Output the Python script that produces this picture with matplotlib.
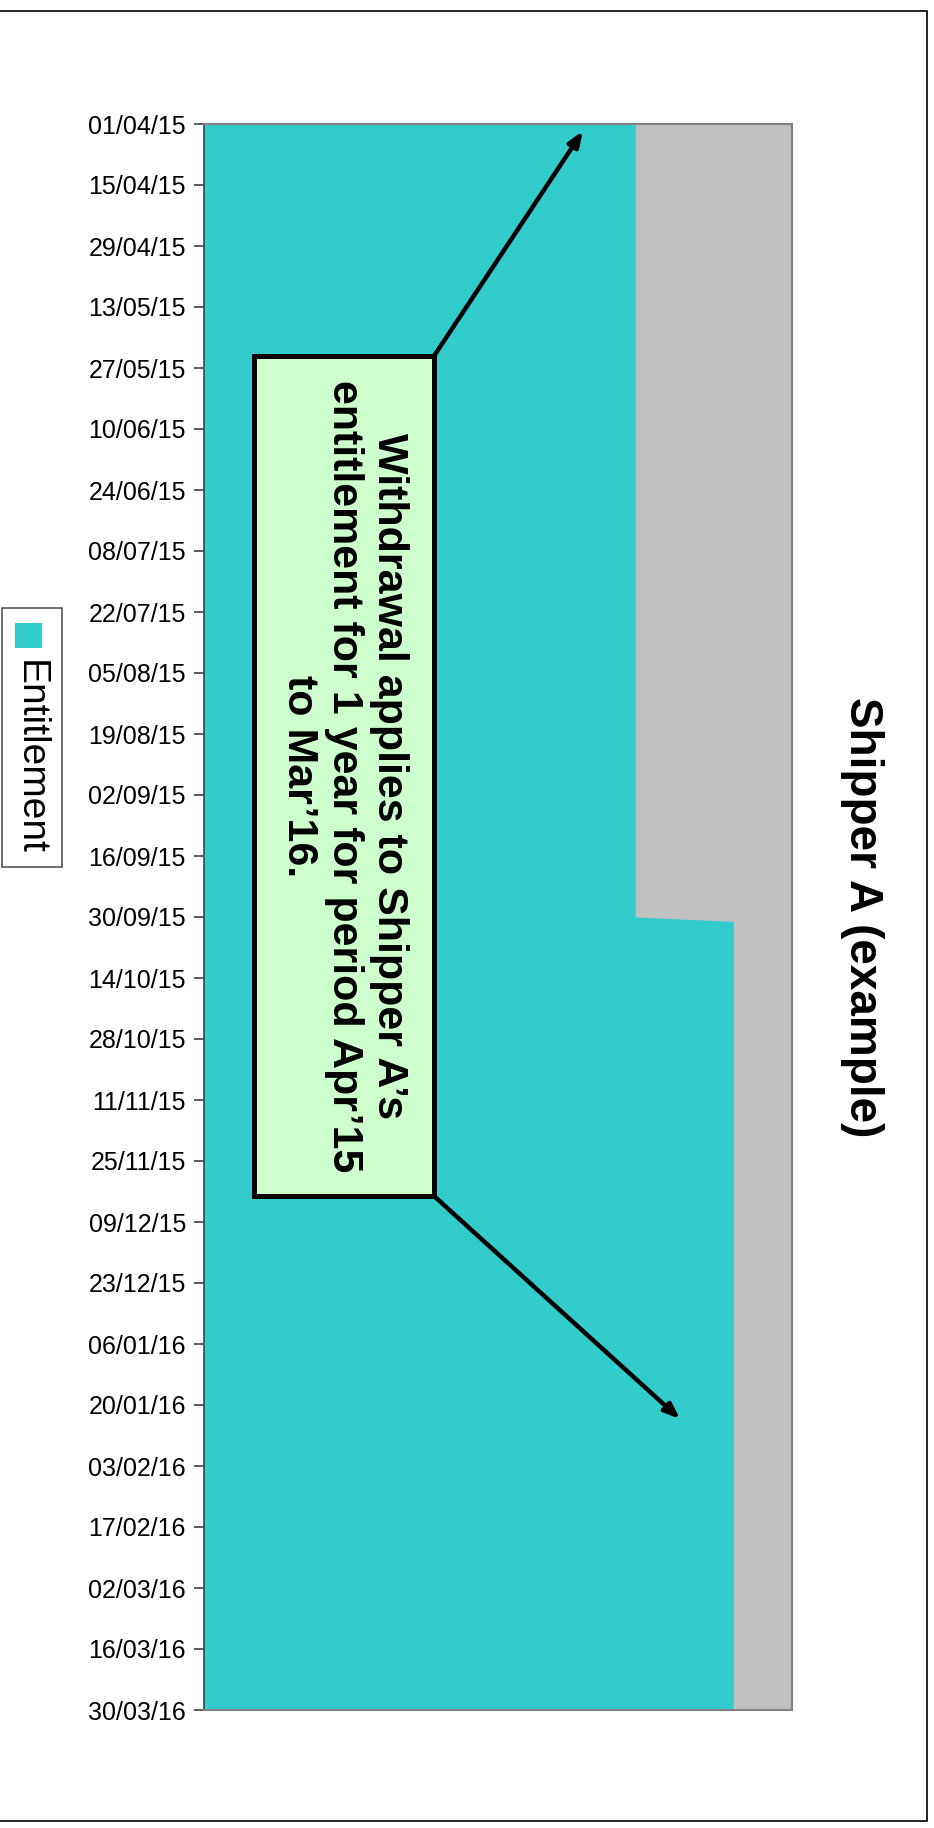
import matplotlib
matplotlib.use("Agg")
import matplotlib.pyplot as plt
import matplotlib.dates as mdates
from matplotlib.patches import Rectangle
from datetime import datetime

plt.rcParams['font.family'] = ['Liberation Sans', 'DejaVu Sans']

# ---- data ----
series_name = "Entitlement"
point_dates = ["01/04/15", "30/09/15", "01/10/15", "30/03/16"]
entitlement = [44, 44, 54, 54]
x_max = 60
tick_labels = ["01/04/15", "15/04/15", "29/04/15", "13/05/15", "27/05/15", "10/06/15",
               "24/06/15", "08/07/15", "22/07/15", "05/08/15", "19/08/15", "02/09/15",
               "16/09/15", "30/09/15", "14/10/15", "28/10/15", "11/11/15", "25/11/15",
               "09/12/15", "23/12/15", "06/01/16", "20/01/16", "03/02/16", "17/02/16",
               "02/03/16", "16/03/16", "30/03/16"]
title = "Shipper A (example)"
note = "Withdrawal applies to Shipper A\u2019s\nentitlement for 1 year for period Apr\u201915\nto Mar\u201916."

W, H = 934, 1828
fig = plt.figure(figsize=(W / 100, H / 100), dpi=100)


def fx(px):
    return px / W


def fy(py):
    return 1 - py / H


# plot area (pixels, top-down)
L, R, T, B = 204, 792, 124, 1710
ax = fig.add_axes([fx(L), fy(B), fx(R - L), (B - T) / H])

to_num = lambda s: mdates.date2num(datetime.strptime(s, "%d/%m/%y"))
yd = [to_num(s) for s in point_dates]
ticks = [to_num(s) for s in tick_labels]

ax.set_facecolor("#C0C0C0")
ax.fill_betweenx(yd, 0, entitlement, color="#33CCCC", lw=0, zorder=2)
ax.set_xlim(0, x_max)
ax.set_ylim(ticks[-1], ticks[0])
ax.set_yticks(ticks)
ax.set_yticklabels(tick_labels, fontsize=18)
ax.set_xticks([])
ax.tick_params(axis="y", length=7, width=1.2, color="#404040", pad=6)
for s in ["top", "right", "bottom"]:
    ax.spines[s].set_color("#808080")
    ax.spines[s].set_linewidth(1.5)
ax.spines["left"].set_color("#404040")
ax.spines["left"].set_linewidth(1.2)

# annotation box
bx0, by0, bx1, by1 = 254, 356, 434, 1196
fig.add_artist(Rectangle((fx(bx0), fy(by1)), fx(bx1 - bx0), (by1 - by0) / H,
                         transform=fig.transFigure, facecolor="#CCFFCC",
                         edgecolor="black", lw=3.6, zorder=5))
fig.text(fx(344), fy(776), note, rotation=-90, ha="center", va="center",
         multialignment="center", fontsize=31, fontweight="bold",
         linespacing=1.15, zorder=6)

arrow_kw = dict(arrowstyle="-|>,head_length=0.9,head_width=0.35", color="black",
                lw=3.2, shrinkA=0, shrinkB=0)
ax.annotate("", xy=(fx(583), fy(131)), xycoords="figure fraction",
            xytext=(fx(bx1), fy(by0)), textcoords="figure fraction",
            arrowprops=arrow_kw, zorder=6)
ax.annotate("", xy=(fx(680), fy(1419)), xycoords="figure fraction",
            xytext=(fx(bx1), fy(by1)), textcoords="figure fraction",
            arrowprops=arrow_kw, zorder=6)

# title
fig.text(fx(862), fy(917), title, rotation=-90, ha="center", va="center",
         fontsize=33, fontweight="bold")

# legend (manual, rotated)
lx0, ly0, lx1, ly1 = 2, 608, 62, 867
fig.add_artist(Rectangle((fx(lx0), fy(ly1)), fx(lx1 - lx0), (ly1 - ly0) / H,
                         transform=fig.transFigure, facecolor="white",
                         edgecolor="#555555", lw=1.2))
fig.add_artist(Rectangle((fx(15), fy(648)), fx(27), 25 / H,
                         transform=fig.transFigure, facecolor="#33CCCC",
                         edgecolor="none"))
fig.text(fx(30), fy(757), series_name, rotation=-90, ha="center", va="center",
         fontsize=28)

# outer border
fig.add_artist(Rectangle((fx(-5), fy(1821)), fx(927 + 5), (1821 - 11) / H,
                         transform=fig.transFigure, facecolor="none",
                         edgecolor="black", lw=1.2))

fig.savefig("out.png", dpi=100)
